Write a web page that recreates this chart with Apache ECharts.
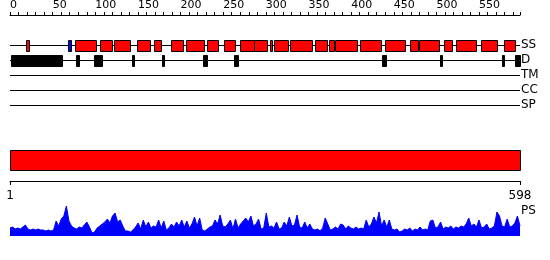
<!DOCTYPE html>
<html><head><meta charset="utf-8">
<script src="https://cdn.jsdelivr.net/npm/echarts@6/dist/echarts.min.js"></script>
<style>html,body{margin:0;padding:0;background:#fff}#c{width:550px;height:260px}</style>
</head><body><div id="c"></div>
<script>
const seqLength = 598;
const tracks = ['SS', 'D', 'TM', 'CC', 'SP'];
const ssHelix = [[19,22],[76,101],[106,120],[122,141],[149,164],[169,177],[189,203],[206,227],[231,244],[251,264],[270,286],[286,301],[305,307],[310,326],[328,354],[358,372],[374,380],[381,407],[410,435],[440,463],[469,478],[480,503],[509,518],[523,546],[552,571],[579,592]];
const ssStrand = [[68,70]];
const disorder = [[1,61],[77,80],[98,107],[143,145],[178,180],[226,231],[263,268],[436,441],[504,506],[577,579],[592,598]];
const domains = [[1,598]];
const psStart = 1;
const psStep = 3;
const psValues = [8,9,7,8,7,9,11,7,6,7,
6,7,6,6,5,6,5,6,15,10,
17,20,30,15,10,8,7,9,8,11,
14,9,3,4,8,10,12,14,17,13,
20,23,14,16,10,5,5,4,6,9,
13,7,16,9,14,8,10,9,16,8,
15,6,8,12,9,14,10,16,9,15,
8,12,19,10,18,6,5,7,9,10,
16,12,21,10,9,12,16,7,17,8,
12,15,18,14,20,10,12,17,7,8,
23,9,10,8,14,7,8,14,10,19,
10,11,21,9,8,14,8,12,7,6,
7,5,8,18,12,6,7,9,7,12,
11,7,10,8,7,9,7,8,7,16,
9,12,19,13,24,10,16,9,16,7,
6,7,4,5,7,6,8,5,7,6,
9,6,7,6,15,16,8,9,14,7,
9,8,10,7,9,8,10,9,12,18,
10,12,9,16,8,9,12,7,8,10,
24,20,10,9,17,9,10,13,20,10];

const FONT = 'DejaVu Sans';
function boxRenderer(fill) {
  return function (params, api) {
    const s = api.coord([api.value(0), api.value(2)]);
    const e = api.coord([api.value(1), api.value(2)]);
    const h = 11;
    return {
      type: 'rect',
      shape: { x: Math.round(s[0]) + 0.5, y: Math.round(s[1] - h / 2) + 0.5, width: Math.max(Math.round(e[0] - s[0]), 2), height: h },
      style: { fill: fill, stroke: '#000', lineWidth: 1 }
    };
  };
}
const chart = echarts.init(document.getElementById('c'), null, { renderer: 'canvas' });
chart.setOption({
  animation: false,
  textStyle: { fontFamily: FONT },
  grid: [
    { left: 10, width: 510, top: 45, height: 60 },
    { left: 10, width: 510, top: 150, height: 31 },
    { left: 10, width: 510, top: 206, height: 30 }
  ],
  xAxis: [
    { gridIndex: 0, type: 'value', position: 'top', offset: 30, min: 0, max: seqLength, interval: 10,
      axisLine: { show: true, lineStyle: { color: '#000', width: 1 } },
      axisTick: { show: true, length: 3, lineStyle: { color: '#000' } },
      axisLabel: { show: true, color: '#000', fontSize: 11, align: 'left', margin: 4, hideOverlap: false,
        formatter: v => (v % 50 === 0 ? String(v) : '') },
      splitLine: { show: false } },
    { gridIndex: 1, type: 'value', position: 'bottom', min: 1, max: seqLength, interval: seqLength - 1,
      axisLine: { show: true, lineStyle: { color: '#000', width: 1 } },
      axisTick: { show: true, length: 4, lineStyle: { color: '#000' } },
      axisLabel: { show: true, color: '#000', fontSize: 12, margin: 9 },
      splitLine: { show: false } },
    { gridIndex: 2, type: 'value', min: 1, max: seqLength, show: false }
  ],
  yAxis: [
    { gridIndex: 0, type: 'category', data: tracks, inverse: true, boundaryGap: false, position: 'right',
      axisLine: { show: false }, axisTick: { show: false },
      axisLabel: { show: true, interval: 0, color: '#000', fontSize: 12, margin: 1 },
      splitLine: { show: true, interval: 0, lineStyle: { color: '#000', width: 1 } } },
    { gridIndex: 1, type: 'value', min: 0, max: 1, show: false },
    { gridIndex: 2, type: 'value', min: 0, max: 30, show: false }
  ],
  graphic: [
    { type: 'text', left: 521, top: 205, style: { text: 'PS', fontSize: 12, fontFamily: FONT, fill: '#000' } }
  ],
  series: [
    { type: 'custom', xAxisIndex: 0, yAxisIndex: 0, renderItem: boxRenderer('#ff0000'),
      data: ssHelix.map(d => [d[0], d[1], 0]), encode: { x: [0, 1], y: 2 } },
    { type: 'custom', xAxisIndex: 0, yAxisIndex: 0, renderItem: boxRenderer('#0000ff'),
      data: ssStrand.map(d => [d[0] - 0.5, d[1] + 0.5, 0]), encode: { x: [0, 1], y: 2 } },
    { type: 'custom', xAxisIndex: 0, yAxisIndex: 0, renderItem: boxRenderer('#000000'),
      data: disorder.map(d => [d[0], d[1], 1]), encode: { x: [0, 1], y: 2 } },
    { type: 'custom', xAxisIndex: 1, yAxisIndex: 1,
      renderItem: function (params, api) {
        const s = api.coord([api.value(0), 1]);
        const e = api.coord([api.value(1), 1]);
        return { type: 'rect', shape: { x: Math.round(s[0]) + 0.5, y: Math.round(s[1]) + 0.5, width: Math.round(e[0] - s[0]), height: 20 },
          style: { fill: '#ff0000', stroke: '#000', lineWidth: 1 } };
      },
      data: domains, encode: { x: [0, 1] } },
    { type: 'line', xAxisIndex: 2, yAxisIndex: 2, symbol: 'none',
      lineStyle: { color: '#0000ff', width: 1 }, areaStyle: { color: '#0000ff', opacity: 1 },
      data: psValues.map((v, i) => [psStart + i * psStep, v]) }
  ]
});
</script></body></html>
